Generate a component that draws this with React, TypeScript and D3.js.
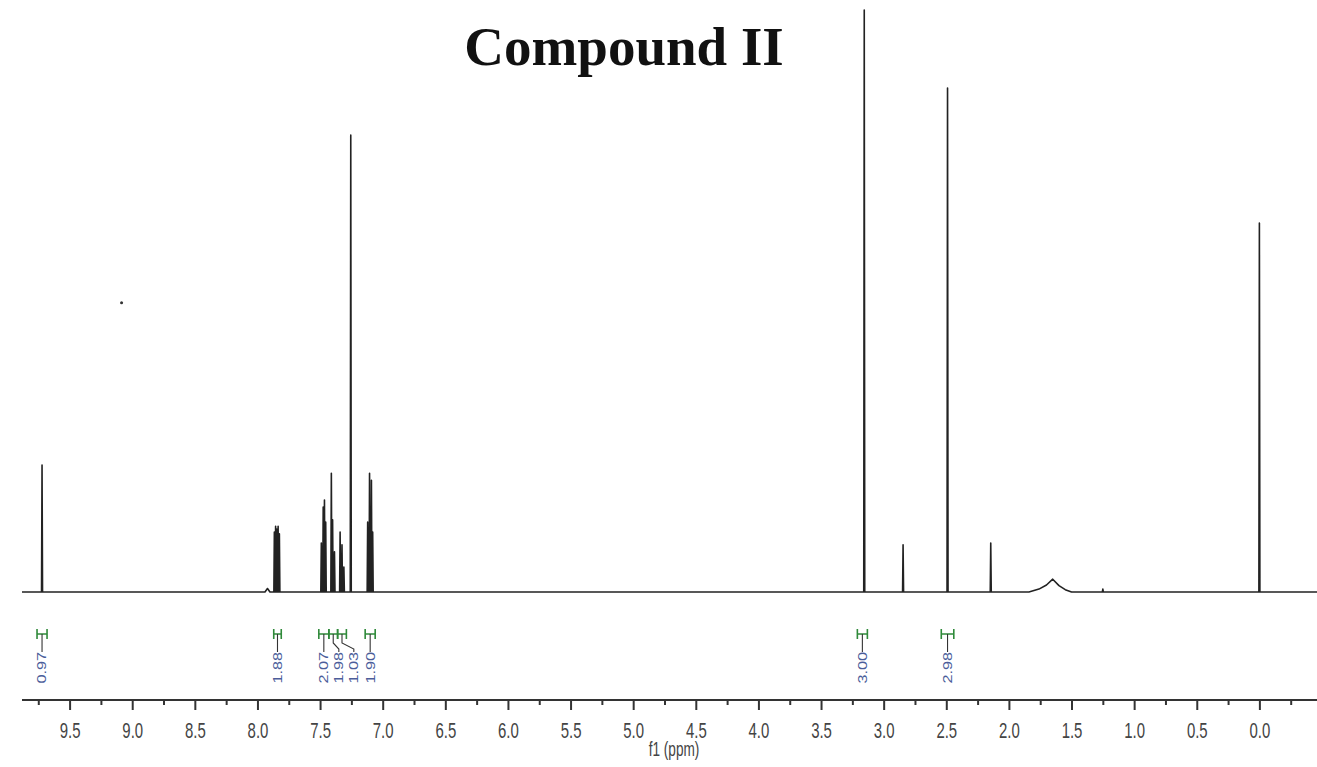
import React, { useRef, useEffect } from "react";
import * as d3 from "d3";

// peaks: chemical shift (ppm) and height (% of tallest)
const sharpPeaks: { ppm: number; h: number }[] = [
  { ppm: 9.72, h: 21.8 },
  { ppm: 7.865, h: 10.3 },
  { ppm: 7.855, h: 11.3 },
  { ppm: 7.845, h: 10.8 },
  { ppm: 7.835, h: 11.3 },
  { ppm: 7.825, h: 10.0 },
  { ppm: 7.49, h: 8.4 },
  { ppm: 7.475, h: 14.6 },
  { ppm: 7.465, h: 15.8 },
  { ppm: 7.455, h: 12.0 },
  { ppm: 7.41, h: 20.4 },
  { ppm: 7.4, h: 12.4 },
  { ppm: 7.385, h: 6.9 },
  { ppm: 7.34, h: 10.3 },
  { ppm: 7.325, h: 8.1 },
  { ppm: 7.31, h: 4.3 },
  { ppm: 7.255, h: 78.5 },
  { ppm: 7.12, h: 12.0 },
  { ppm: 7.105, h: 20.4 },
  { ppm: 7.09, h: 19.2 },
  { ppm: 7.08, h: 10.3 },
  { ppm: 3.155, h: 100 },
  { ppm: 2.845, h: 8.1 },
  { ppm: 2.49, h: 86.6 },
  { ppm: 2.145, h: 8.4 },
  { ppm: 1.25, h: 0.5 },
  { ppm: 0.0, h: 63.4 },
];

// broad signals, as outline points [ppm, height]
const smallBump: [number, number][] = [
  [7.94, 0],
  [7.92, 0.6],
  [7.9, 0],
];
const broadHump: [number, number][] = [
  [1.84, 0],
  [1.76, 0.5],
  [1.7, 1.2],
  [1.65, 2.2],
  [1.6, 1.1],
  [1.55, 0.4],
  [1.5, 0],
];

const specks: [number, number][] = [[9.085, 49.7]];

const integrals: { from: number; to: number; label: string }[] = [
  { from: 9.76, to: 9.68, label: "0.97" },
  { from: 7.87, to: 7.81, label: "1.88" },
  { from: 7.51, to: 7.43, label: "2.07" },
  { from: 7.43, to: 7.36, label: "1.98" },
  { from: 7.36, to: 7.29, label: "1.03" },
  { from: 7.14, to: 7.06, label: "1.90" },
  { from: 3.21, to: 3.13, label: "3.00" },
  { from: 2.54, to: 2.44, label: "2.98" },
];

const majorTicks = [9.5, 9.0, 8.5, 8.0, 7.5, 7.0, 6.5, 6.0, 5.5, 5.0, 4.5, 4.0, 3.5, 3.0, 2.5, 2.0, 1.5, 1.0, 0.5, 0.0];
const minorTicks = [9.75, 9.25, 8.75, 8.25, 7.75, 7.25, 6.75, 6.25, 5.75, 5.25, 4.75, 4.25, 3.75, 3.25, 2.75, 2.25, 1.75, 1.25, 0.75, 0.25, -0.25];

const title = "Compound II";
const axisTitle = "f1 (ppm)";

const App = () => {
  const svgRef = useRef<SVGSVGElement | null>(null);

  useEffect(() => {
    document.body.style.margin = "0";
    const svg = d3.select(svgRef.current);
    svg.selectAll("*").remove();

    const width = 1317;
    const height = 767;
    svg.attr("width", width).attr("height", height);

    const x = d3.scaleLinear().domain([9.88, -0.46]).range([22, 1317]);
    const y = d3.scaleLinear().domain([0, 100]).range([592, 10]);
    const axisY = 700;

    // title
    svg
      .append("text")
      .attr("x", 624)
      .attr("y", 65)
      .attr("text-anchor", "middle")
      .style("font-family", "'Liberation Serif', 'Times New Roman', serif")
      .style("font-weight", "bold")
      .style("font-size", "55px")
      .attr("fill", "#111")
      .text(title);

    // spectrum trace: baseline with every peak as a thin spike
    const w = 0.004;
    const pts: [number, number][] = [[9.88, 0]];
    sharpPeaks.forEach((p) => {
      pts.push([p.ppm + w, 0], [p.ppm, p.h], [p.ppm - w, 0]);
    });
    smallBump.forEach((p) => pts.push(p));
    broadHump.forEach((p) => pts.push(p));
    pts.push([-0.46, 0]);
    pts.sort((a, b) => b[0] - a[0]);

    const line = d3
      .line<[number, number]>()
      .x((d) => x(d[0]))
      .y((d) => y(d[1]));

    svg
      .append("path")
      .datum(pts)
      .attr("fill", "none")
      .attr("stroke", "#222")
      .attr("stroke-width", 1.6)
      .attr("stroke-linejoin", "round")
      .attr("d", line);

    svg
      .selectAll(".speck")
      .data(specks)
      .enter()
      .append("circle")
      .attr("cx", (d) => x(d[0]))
      .attr("cy", (d) => y(d[1]))
      .attr("r", 1.5)
      .attr("fill", "#333");

    // integration brackets
    const green = "#2f8a3a";
    const blue = "#4b5d9a";
    const bTop = 629;
    const bMid = 634;
    const bBot = 639;
    const centers = integrals.map((g) => x((g.from + g.to) / 2));
    const labelX = centers.slice();
    for (let i = 1; i < labelX.length; i++) {
      if (labelX[i] - labelX[i - 1] < 15) labelX[i] = labelX[i - 1] + 15;
    }

    const integ = svg.append("g");
    integrals.forEach((g, i) => {
      const x1 = x(g.from);
      const x2 = x(g.to);
      const cx = centers[i];
      const lx = labelX[i];
      integ
        .append("path")
        .attr("d", `M${x1},${bTop}V${bBot}M${x2},${bTop}V${bBot}M${x1},${bMid}H${x2}`)
        .attr("fill", "none")
        .attr("stroke", green)
        .attr("stroke-width", 1.6);
      integ
        .append("path")
        .attr("d", `M${cx},${bMid}V${643}L${lx},${649}V${652}`)
        .attr("fill", "none")
        .attr("stroke", "#333")
        .attr("stroke-width", 1.1);
      integ
        .append("text")
        .attr("transform", `translate(${lx},${652}) rotate(-90) scale(1.25,1)`)
        .attr("text-anchor", "end")
        .attr("dominant-baseline", "central")
        .style("font-family", "'Liberation Sans', Arial, sans-serif")
        .style("font-size", "13px")
        .attr("fill", blue)
        .text(g.label);
    });

    // axis
    svg
      .append("line")
      .attr("x1", 22)
      .attr("x2", 1317)
      .attr("y1", axisY)
      .attr("y2", axisY)
      .attr("stroke", "#333")
      .attr("stroke-width", 2);

    const minorAxis = d3.axisBottom(x).tickValues(minorTicks).tickSize(5).tickFormat(() => "");
    const gMinor = svg.append("g").attr("transform", `translate(0,${axisY})`).call(minorAxis);
    gMinor.select(".domain").remove();
    gMinor.selectAll("line").attr("stroke", "#333").attr("stroke-width", 2);

    const majorAxis = d3
      .axisBottom(x)
      .tickValues(majorTicks)
      .tickSize(10)
      .tickPadding(12)
      .tickFormat(d3.format(".1f"));
    const gMajor = svg.append("g").attr("transform", `translate(0,${axisY})`).call(majorAxis);
    gMajor.select(".domain").remove();
    gMajor.selectAll("line").attr("stroke", "#333").attr("stroke-width", 2);
    gMajor
      .selectAll("text")
      .attr("transform", "scale(0.68,1)")
      .attr("fill", "#444")
      .style("font-family", "'Liberation Sans', Arial, sans-serif")
      .style("font-size", "22px");

    svg
      .append("text")
      .attr("transform", `translate(${674},${756}) scale(0.68,1)`)
      .attr("text-anchor", "middle")
      .attr("fill", "#444")
      .style("font-family", "'Liberation Sans', Arial, sans-serif")
      .style("font-size", "20px")
      .text(axisTitle);
  }, []);

  return <svg ref={svgRef} style={{ display: "block" }} />;
};

export default App;
